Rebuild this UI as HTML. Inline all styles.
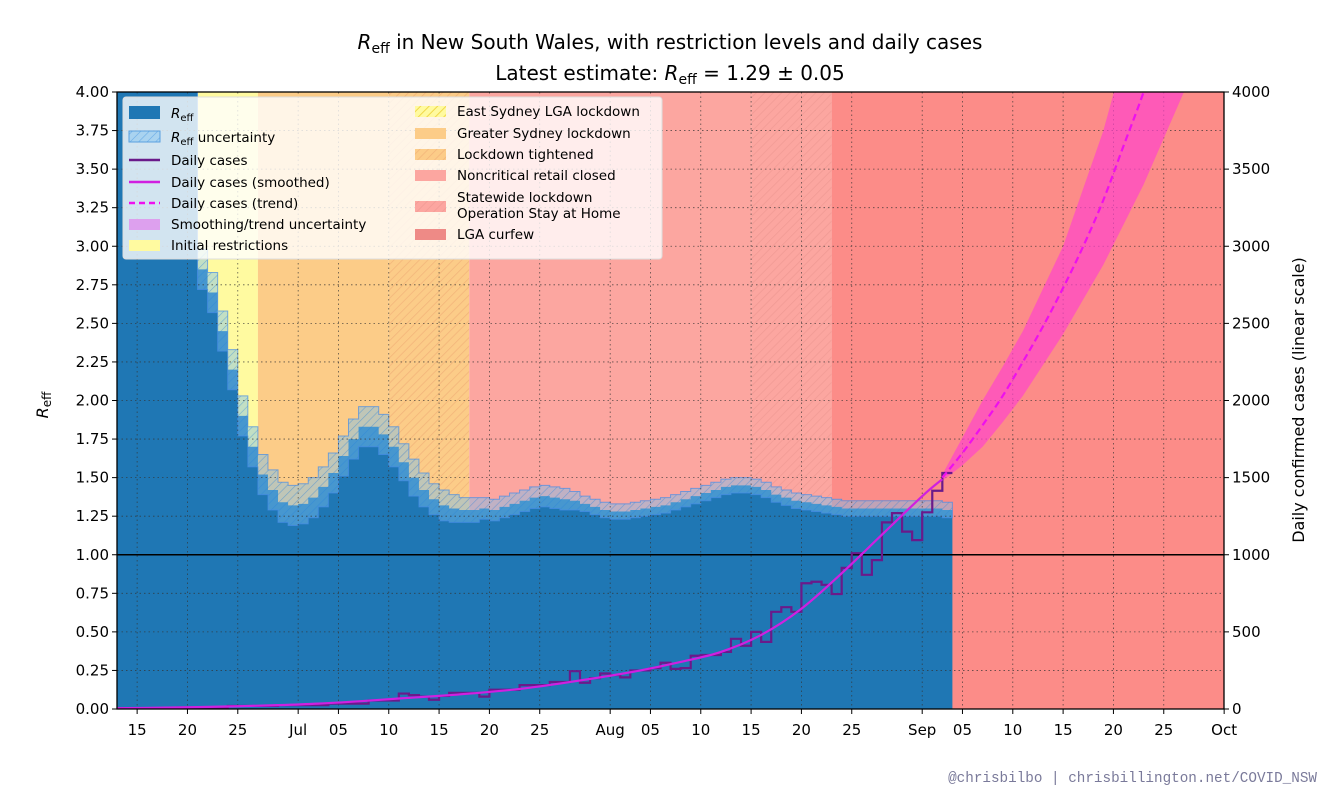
<!DOCTYPE html>
<html><head><meta charset="utf-8"><style>
body{margin:0;background:#fff;width:1330px;height:798px;overflow:hidden;font-family:"Liberation Sans","DejaVu Sans",sans-serif}
svg text{font-family:"DejaVu Sans","Liberation Sans",sans-serif}
</style></head><body>
<svg id="c" width="1330" height="798" xmlns="http://www.w3.org/2000/svg">
<defs>
<pattern id="hY" width="6" height="6" patternUnits="userSpaceOnUse" patternTransform="rotate(45)"><rect width="6" height="6" fill="#fffaa0"/><line x1="0" y1="0" x2="0" y2="6" stroke="#f0d84a" stroke-width="2"/></pattern>
<pattern id="hO" width="6" height="6" patternUnits="userSpaceOnUse" patternTransform="rotate(45)"><rect width="6" height="6" fill="#fccc88"/><line x1="0" y1="0" x2="0" y2="6" stroke="#f2b47a" stroke-width="1.5"/></pattern>
<pattern id="hR" width="6" height="6" patternUnits="userSpaceOnUse" patternTransform="rotate(45)"><rect width="6" height="6" fill="#fca6a0"/><line x1="0" y1="0" x2="0" y2="6" stroke="#f09a94" stroke-width="1.5"/></pattern>
<pattern id="hB" width="6" height="6" patternUnits="userSpaceOnUse" patternTransform="rotate(45)"><rect width="6" height="6" fill="rgba(120,190,240,0.45)"/><line x1="0" y1="0" x2="0" y2="6" stroke="rgba(40,130,220,0.5)" stroke-width="1.2"/></pattern>
<clipPath id="pc"><rect x="117" y="92" width="1107" height="617"/></clipPath>
</defs>
<g id="plot" clip-path="url(#pc)"></g>
<g id="axes"></g>
</svg>
<script>
const NS="http://www.w3.org/2000/svg";
// ---- data ----
const tickLabels=["15","20","25","Jul","05","10","15","20","25","Aug","05","10","15","20","25","Sep","05","10","15","20","25","Oct"];
const tickDays=[2,7,12,18,22,27,32,37,42,49,53,58,63,68,73,80,84,89,94,99,104,110];
const regionNames=["East Sydney LGA lockdown","Initial restrictions","Greater Sydney lockdown","Lockdown tightened","Noncritical retail closed","Statewide lockdown","LGA curfew"];
const regionStart=[7,8,14,27,35,63,71];
const regionEnd=[8,14,27,35,63,71,111];
const regionFill=["url(#hY)","#fffaa0","#fccc88","url(#hO)","#fca6a0","url(#hR)","#fc8c88"];
const reff=[4.5,4.5,4.5,4.5,4.5,4.5,4.5,4.5,2.85,2.7,2.45,2.2,1.9,1.7,1.52,1.42,1.34,1.32,1.33,1.37,1.44,1.53,1.64,1.75,1.83,1.83,1.78,1.7,1.6,1.5,1.42,1.36,1.32,1.3,1.29,1.29,1.3,1.29,1.31,1.33,1.35,1.37,1.38,1.37,1.36,1.35,1.33,1.31,1.29,1.28,1.28,1.29,1.3,1.31,1.32,1.34,1.36,1.38,1.4,1.42,1.44,1.45,1.45,1.44,1.42,1.39,1.37,1.35,1.34,1.33,1.32,1.31,1.3,1.3,1.3,1.3,1.3,1.3,1.3,1.3,1.3,1.3,1.29];
const reffErr=[0.13,0.13,0.13,0.13,0.13,0.13,0.13,0.13,0.13,0.13,0.13,0.13,0.13,0.13,0.13,0.13,0.13,0.13,0.13,0.13,0.13,0.13,0.13,0.13,0.13,0.13,0.13,0.13,0.12,0.12,0.11,0.1,0.1,0.09,0.08,0.08,0.07,0.07,0.07,0.07,0.07,0.07,0.07,0.07,0.07,0.06,0.05,0.05,0.05,0.05,0.05,0.05,0.05,0.05,0.05,0.05,0.05,0.05,0.05,0.05,0.05,0.05,0.05,0.05,0.05,0.05,0.05,0.05,0.05,0.05,0.05,0.05,0.05,0.05,0.05,0.05,0.05,0.05,0.05,0.05,0.05,0.05,0.05];
const cases=[5,5,5,5,5,5,10,10,10,10,10,20,20,20,20,20,25,25,25,25,25,35,35,35,35,55,55,55,100,90,80,60,85,105,105,105,80,125,125,125,155,155,155,175,175,245,170,200,230,220,205,250,250,265,300,260,265,345,350,350,370,455,410,500,435,630,660,630,815,825,805,745,915,1010,870,965,1210,1270,1150,1095,1275,1415,1530];
const smoothDays=[0,4,8,12,16,20,24,28,32,36,40,44,48,52,56,60,64,68,72,76,80,82];
const smoothVals=[5,8,12,18,25,35,50,68,85,105,130,165,205,250,305,370,480,650,880,1130,1380,1490];
const trendDays=[82,84,86,88,90,92,94,96,98,100,102,104];
const trendVals=[1500,1660,1840,2030,2250,2480,2730,3000,3300,3650,4000,4400];
const bandDays=[82,84,86,88,90,94,98,102,106,108];
const bandLo=[1480,1580,1700,1860,2030,2430,2880,3400,4000,4300];
const bandHi=[1520,1760,2000,2220,2450,3000,3750,4700,5800,6400];
// ---- scales ----
const X0=117,DW=10.065,Y0=709,YT=92;
const x=d=>X0+d*DW;
const yR=r=>Y0-(r/4)*(Y0-YT);
const yC=c=>Y0-(c/4000)*(Y0-YT);
const plot=document.getElementById('plot'),axes=document.getElementById('axes');
function mk(tag,at,par){const e=document.createElementNS(NS,tag);for(const k in at)e.setAttribute(k,at[k]);(par||plot).appendChild(e);return e;}
mk('rect',{x:117,y:92,width:1107,height:617,fill:'#fff'});
regionStart.forEach((s,i)=>{
 const r=mk('rect',{x:x(s),y:92,width:x(regionEnd[i])-x(s),height:617,fill:regionFill[i]});
 
 
});
function stepPath(vals,f){let p='M'+x(0)+','+Y0;vals.forEach((v,i)=>{p+=' L'+x(i)+','+f(v)+' L'+x(i+1)+','+f(v);});p+=' L'+x(vals.length)+','+Y0+'Z';return p;}
const rf=mk('path',{d:stepPath(reff,yR),fill:'#1f77b4'});


let up='',lo='';
reff.forEach((v,i)=>{up+=(i?' L':'M')+x(i)+','+yR(v+reffErr[i])+' L'+x(i+1)+','+yR(v+reffErr[i]);});
for(let i=reff.length-1;i>=0;i--){lo+=' L'+x(i+1)+','+yR(reff[i]-reffErr[i])+' L'+x(i)+','+yR(reff[i]-reffErr[i]);}
const ub=mk('path',{d:up+lo+'Z',fill:'url(#hB)',stroke:'rgba(70,140,230,0.7)','stroke-width':1});


for(let r=0.25;r<4;r+=0.25){mk('line',{x1:117,x2:1224,y1:yR(r),y2:yR(r),stroke:'#333','stroke-width':0.8,'stroke-dasharray':'1.5,3',opacity:0.8});}
tickDays.forEach(d=>mk('line',{x1:x(d),x2:x(d),y1:92,y2:709,stroke:'#333','stroke-width':0.8,'stroke-dasharray':'1.5,3',opacity:0.8}));
mk('line',{x1:117,x2:1224,y1:yR(1),y2:yR(1),stroke:'#000','stroke-width':1.5});
let bp='';bandDays.forEach((d,i)=>{bp+=(i?' L':'M')+x(d)+','+yC(bandHi[i]);});
for(let i=bandDays.length-1;i>=0;i--)bp+=' L'+x(bandDays[i])+','+yC(bandLo[i]);
const tb=mk('path',{d:bp+'Z',fill:'#ff44cc',opacity:0.7});


let cp='';cases.forEach((v,i)=>{cp+=(i?' L':'M')+x(i)+','+yC(v)+' L'+x(i+1)+','+yC(v);});
const cl=mk('path',{d:cp,fill:'none',stroke:'#6a1a8a','stroke-width':2.2});


function curve(ds,vs){let p='M'+x(ds[0])+','+yC(vs[0]);for(let i=0;i<ds.length-1;i++){const p0=i?i-1:i,p3=i+2<ds.length?i+2:i+1;const X=k=>x(ds[k]),Y=k=>yC(vs[k]);p+=' C'+(X(i)+(X(i+1)-X(p0))/6)+','+(Y(i)+(Y(i+1)-Y(p0))/6)+' '+(X(i+1)-(X(p3)-X(i))/6)+','+(Y(i+1)-(Y(p3)-Y(i))/6)+' '+X(i+1)+','+Y(i+1);}return p;}
const sl=mk('path',{d:curve(smoothDays,smoothVals),fill:'none',stroke:'#d020e0','stroke-width':2.2});


const tl=mk('path',{d:curve(trendDays,trendVals),fill:'none',stroke:'#ee10ee','stroke-width':2.2,'stroke-dasharray':'7,4'});


mk('rect',{x:117,y:92,width:1107,height:617,fill:'none',stroke:'#000','stroke-width':1.3},axes);
for(let i=0;i<=16;i++){const r=i*0.25,y=yR(r);mk('line',{x1:112,x2:117,y1:y,y2:y,stroke:'#000'},axes);
 const t=mk('text',{x:109,y:y+5,'text-anchor':'end','font-size':15},axes);t.textContent=r.toFixed(2);
 }
for(let i=0;i<=8;i++){const c=i*500,y=yC(c);mk('line',{x1:1224,x2:1229,y1:y,y2:y,stroke:'#000'},axes);
 const t=mk('text',{x:1232,y:y+5,'font-size':15},axes);t.textContent=c;
 }
tickDays.forEach((d,i)=>{mk('line',{x1:x(d),x2:x(d),y1:709,y2:714,stroke:'#000'},axes);
 const t=mk('text',{x:x(d),y:735,'text-anchor':'middle','font-size':15},axes);t.textContent=tickLabels[i];
 });
</script>
<svg style="position:absolute;left:0;top:0" width="1330" height="798">
<text x="670" y="49" text-anchor="middle" font-size="20"><tspan font-style="italic">R</tspan><tspan font-size="14" dy="4">eff</tspan><tspan dy="-4"> in New South Wales, with restriction levels and daily cases</tspan></text>
<text x="670" y="80" text-anchor="middle" font-size="20">Latest estimate: <tspan font-style="italic">R</tspan><tspan font-size="14" dy="4">eff</tspan><tspan dy="-4"> = 1.29 ± 0.05</tspan></text>
<text transform="translate(48,405) rotate(-90)" text-anchor="middle" font-size="16"><tspan font-style="italic">R</tspan><tspan font-size="12" dy="3">eff</tspan></text>
<text transform="translate(1304,400) rotate(-90)" text-anchor="middle" font-size="16">Daily confirmed cases (linear scale)</text>
<text x="1317" y="782" text-anchor="end" font-size="14.3" fill="#7a7a9a" style="font-family:'Liberation Mono',monospace">@chrisbilbo | chrisbillington.net/COVID_NSW</text>
<g font-size="13.5">
<rect x="123" y="97" width="539" height="162" rx="3" fill="rgba(255,255,255,0.8)" stroke="#ddd"/>
<rect x="129" y="106" width="31" height="13" fill="#1f77b4"/>
<text x="171" y="118"><tspan font-style="italic">R</tspan><tspan font-size="10" dy="3">eff</tspan></text>
<rect x="129" y="131" width="31" height="11" fill="url(#hB)" stroke="#5aa0e0"/>
<text x="171" y="142"><tspan font-style="italic">R</tspan><tspan font-size="10" dy="3">eff</tspan><tspan dy="-3"> uncertainty</tspan></text>
<line x1="129" x2="160" y1="160" y2="160" stroke="#6a1a8a" stroke-width="2.5"/><text x="171" y="165">Daily cases</text>
<line x1="129" x2="160" y1="182" y2="182" stroke="#d020e0" stroke-width="2.5"/><text x="171" y="187">Daily cases (smoothed)</text>
<line x1="129" x2="160" y1="203" y2="203" stroke="#ee10ee" stroke-width="2.5" stroke-dasharray="6,4"/><text x="171" y="208">Daily cases (trend)</text>
<rect x="129" y="219" width="31" height="11" fill="#dda0ee"/><text x="171" y="229">Smoothing/trend uncertainty</text>
<rect x="129" y="240" width="31" height="11" fill="#fffaa0"/><text x="171" y="250">Initial restrictions</text>
<rect x="415" y="106" width="31" height="11" fill="url(#hY)"/><text x="457" y="116">East Sydney LGA lockdown</text>
<rect x="415" y="128" width="31" height="11" fill="#fccc88"/><text x="457" y="138">Greater Sydney lockdown</text>
<rect x="415" y="149" width="31" height="11" fill="url(#hO)"/><text x="457" y="159">Lockdown tightened</text>
<rect x="415" y="170" width="31" height="11" fill="#fca6a0"/><text x="457" y="180">Noncritical retail closed</text>
<rect x="415" y="201" width="31" height="11" fill="url(#hR)"/><text x="457" y="202">Statewide lockdown</text><text x="457" y="218">Operation Stay at Home</text>
<rect x="415" y="229" width="31" height="11" fill="#ee8a86"/><text x="457" y="239">LGA curfew</text>
</g>
</svg>
</body></html>
